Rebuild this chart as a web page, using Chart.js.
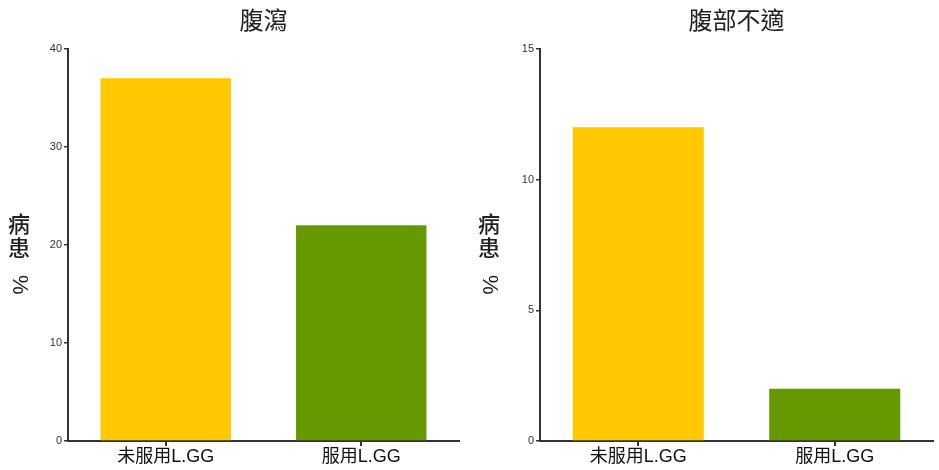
<!DOCTYPE html>
<html>
<head>
<meta charset="utf-8">
<script src="https://cdn.jsdelivr.net/npm/chart.js@4/dist/chart.umd.min.js"></script>
<style>
  html, body { margin: 0; padding: 0; background: #fff; }
  #wrap { position: relative; width: 939px; height: 470px; }
  .panel { position: absolute; top: 0; height: 470px; }
</style>
</head>
<body>
<div id="wrap">
  <div class="panel" style="left:0; width:470px;"><canvas id="chartLeft"></canvas></div>
  <div class="panel" style="left:470px; width:469px;"><canvas id="chartRight"></canvas></div>
</div>
<script>
// data
const categories = ['未服用L.GG', '服用L.GG'];
const diarrheaValues = [37, 22];
const discomfortValues = [12, 2];
const diarrheaTicks = [0, 10, 20, 30, 40];
const discomfortTicks = [0, 5, 10, 15];
const barColors = ['#FFC800', '#669900'];
const yLabelChars = ['病', '患', '%'];

const FONT = "'Liberation Sans', 'Noto Sans CJK TC', sans-serif";
const INK = '#333';

// y label drawn like vertical writing: CJK upright, % turned sideways
const stackedYLabel = {
    id: 'stackedYLabel',
    afterDraw(chart, args, opts) {
        const ctx = chart.ctx;
        const area = chart.chartArea;
        const x = area.left - opts.dx;
        const cy = (area.top + area.bottom) / 2;
        const offsets = [-19, 5, 40];
        ctx.save();
        ctx.font = '500 22px ' + FONT;
        ctx.fillStyle = '#222';
        ctx.textAlign = 'center';
        ctx.textBaseline = 'middle';
        yLabelChars.forEach((ch, i) => {
            if (ch === '%') {
                ctx.save();
                ctx.translate(x, cy + offsets[i]);
                ctx.rotate(Math.PI / 2);
                ctx.fillText(ch, 0, 0);
                ctx.restore();
            } else {
                ctx.fillText(ch, x, cy + offsets[i]);
            }
        });
        ctx.restore();
    }
};

function makeChart(id, title, values, tickValues, pad, labelDx) {
    return new Chart(document.getElementById(id), {
        type: 'bar',
        data: {
            labels: categories,
            datasets: [{
                data: values,
                backgroundColor: barColors,
                borderWidth: 0,
                barPercentage: 0.667,
                categoryPercentage: 1
            }]
        },
        options: {
            responsive: true,
            maintainAspectRatio: false,
            animation: false,
            layout: { padding: pad },
            plugins: {
                legend: { display: false },
                tooltip: { enabled: false },
                title: {
                    display: true,
                    text: title,
                    fullSize: false,
                    color: '#222',
                    font: { family: FONT, size: 24, weight: 'normal', lineHeight: 1.2 },
                    padding: { top: 8, bottom: 12 }
                },
                stackedYLabel: { dx: labelDx }
            },
            scales: {
                x: {
                    offset: true,
                    border: { display: true, color: INK, width: 2 },
                    grid: { display: true, drawOnChartArea: false, drawTicks: true, tickLength: 5, offset: false, color: INK, lineWidth: 2 },
                    ticks: { color: '#111', padding: 0, font: { family: FONT, size: 18 }, maxRotation: 0 },
                    afterFit(scale) { scale.height = 27; }
                },
                y: {
                    min: tickValues[0],
                    max: tickValues[tickValues.length - 1],
                    border: { display: true, color: INK, width: 2 },
                    grid: { display: true, drawOnChartArea: false, drawTicks: true, tickLength: 4, color: INK, lineWidth: 1.5 },
                    ticks: { color: INK, padding: 2, font: { family: FONT, size: 11 } },
                    afterBuildTicks(scale) { scale.ticks = tickValues.map(v => ({ value: v })); },
                    afterFit(scale) { scale.width = 38; }
                }
            }
        },
        plugins: [stackedYLabel]
    });
}

makeChart('chartLeft', '腹瀉', diarrheaValues, diarrheaTicks, { left: 30, right: 11, top: 0, bottom: 2 }, 49);
makeChart('chartRight', '腹部不適', discomfortValues, discomfortTicks, { left: 32, right: 6, top: 0, bottom: 2 }, 51);
</script>
</body>
</html>
